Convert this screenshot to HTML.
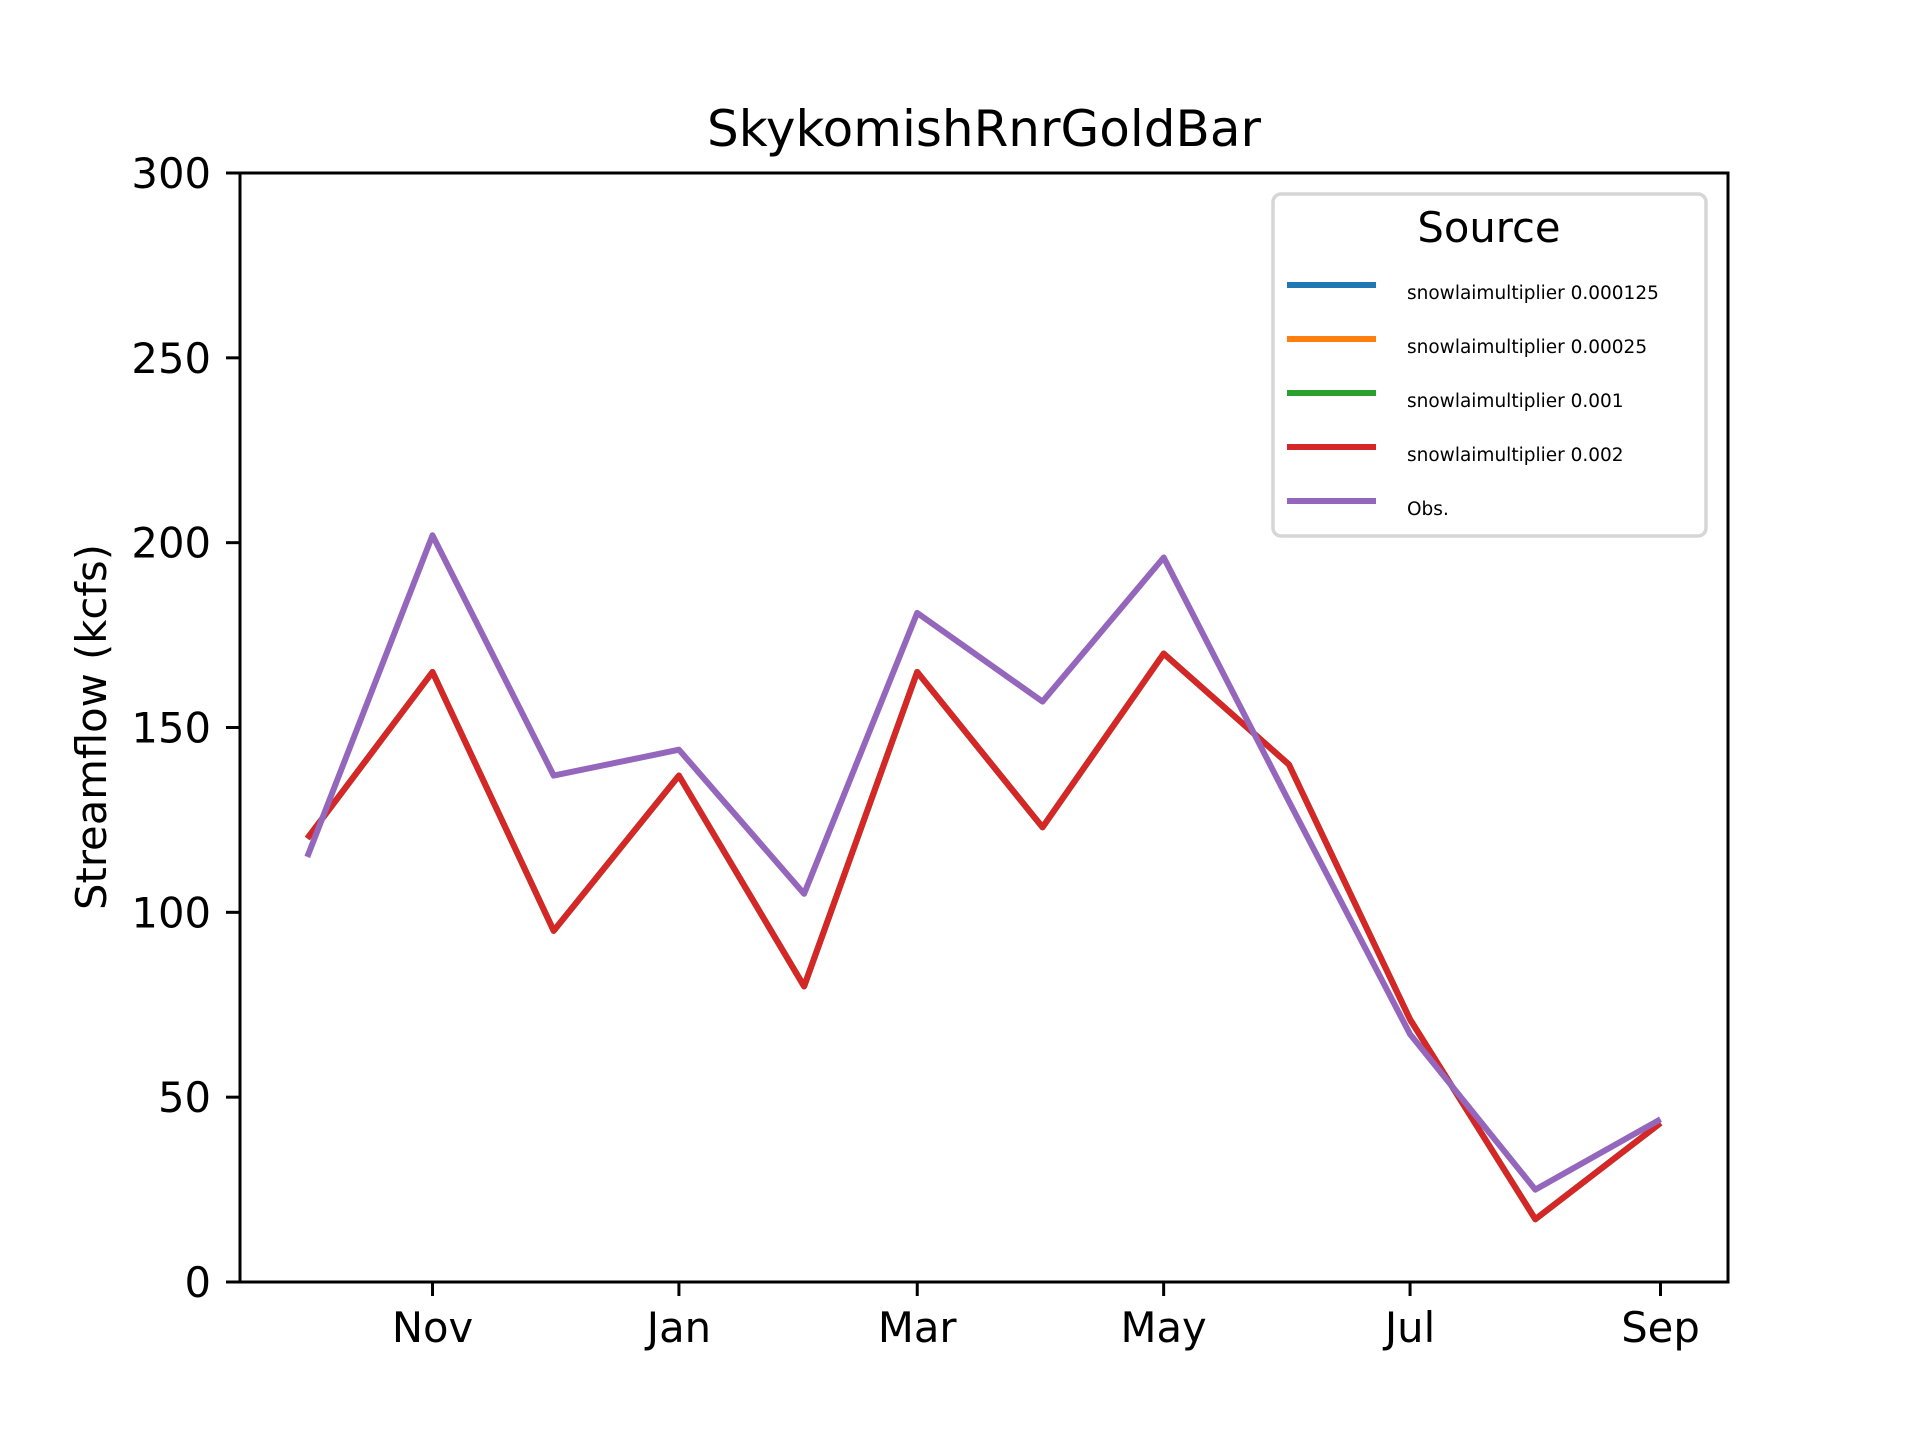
<!DOCTYPE html>
<html><head><meta charset="utf-8"><style>
html,body{margin:0;padding:0;background:#fff;}
svg{display:block;font-family:"DejaVu Sans","Liberation Sans",sans-serif;}
</style></head><body>
<svg id="chart" width="1920" height="1440" viewBox="0 0 1920 1440" xmlns="http://www.w3.org/2000/svg">
<rect width="1920" height="1440" fill="#fff"/>
<text x="984" y="146" font-size="50" text-anchor="middle">SkykomishRnrGoldBar</text>
<g id="plot"></g>
<rect x="240" y="173" width="1488" height="1109" fill="none" stroke="#000" stroke-width="3"/>
<text transform="translate(106,727) rotate(-90)" font-size="41.7" text-anchor="middle">Streamflow (kcfs)</text>
<g id="axes"></g>
<g>
<rect x="1273" y="194" width="433" height="342" rx="8" fill="#fff" fill-opacity="0.8" stroke="#d6d6d6" stroke-width="3.5"/>
<text x="1489" y="242" font-size="41.7" text-anchor="middle">Source</text>
<g id="legend-entries"></g>
</g>
</svg>
<script>
const months = ["Oct","Nov","Dec","Jan","Feb","Mar","Apr","May","Jun","Jul","Aug","Sep"];
const monthDays = [0,31,61,92,123,151,182,212,243,273,304,335];
const seriesNames = ["snowlaimultiplier 0.000125","snowlaimultiplier 0.00025","snowlaimultiplier 0.001","snowlaimultiplier 0.002","Obs."];
const seriesColors = ["#1f77b4","#ff7f0e","#2ca02c","#d62728","#9467bd"];
const sim000125 = [120,165,95,137,80,165,123,170,140,71,17,43];
const sim00025 = [120,165,95,137,80,165,123,170,140,71,17,43];
const sim001 = [120,165,95,137,80,165,123,170,140,71,17,43];
const sim002 = [120,165,95,137,80,165,123,170,140,71,17,43];
const obs = [115,202,137,144,105,181,157,196,130,67,25,44];
const yTicks = [0,50,100,150,200,250,300];
const xTickLabels = ["Nov","Jan","Mar","May","Jul","Sep"];
const xTickDays = [31,92,151,212,273,335];

const NS="http://www.w3.org/2000/svg";
function xs(d){return 307.3 + d*4.0394;}
function ys(v){return 1282 - v*(1109/300);}
function mk(tag,attrs,parent){const e=document.createElementNS(NS,tag);for(const k in attrs)e.setAttribute(k,attrs[k]);parent.appendChild(e);return e;}

const plot=document.getElementById('plot');
const allSeries=[sim000125,sim00025,sim001,sim002,obs];
allSeries.forEach((s,i)=>{
  const pts=s.map((v,j)=>xs(monthDays[j]).toFixed(1)+","+ys(v).toFixed(1)).join(" ");
  const pl=mk('polyline',{points:pts,fill:'none',stroke:seriesColors[i],'stroke-width':6,'stroke-linejoin':'round'},plot);
  
  
});

const axes=document.getElementById('axes');
yTicks.forEach(t=>{
  const y=ys(t);
  const l=mk('line',{x1:226,x2:240,y1:y,y2:y,stroke:'#000','stroke-width':3},axes);
  
  
  const tx=mk('text',{x:211,y:y+15,'font-size':41.7,'text-anchor':'end'},axes);
  tx.textContent=t;
  
  
});
xTickDays.forEach((d,i)=>{
  const x=xs(d);
  const l=mk('line',{x1:x,x2:x,y1:1282,y2:1296,stroke:'#000','stroke-width':3},axes);
  
  
  const tx=mk('text',{x:x,y:1342,'font-size':41.7,'text-anchor':'middle'},axes);
  tx.textContent=xTickLabels[i];
  
  
});

const leg=document.getElementById('legend-entries');
seriesNames.forEach((n,i)=>{
  const y=285+i*54;
  const l=mk('line',{x1:1287,x2:1376,y1:y,y2:y,stroke:seriesColors[i],'stroke-width':6},leg);
  
  
  const tx=mk('text',{x:1407,y:y+14,'font-size':18.5},leg);
  tx.textContent=n;
  
  
});
</script>
</body></html>
